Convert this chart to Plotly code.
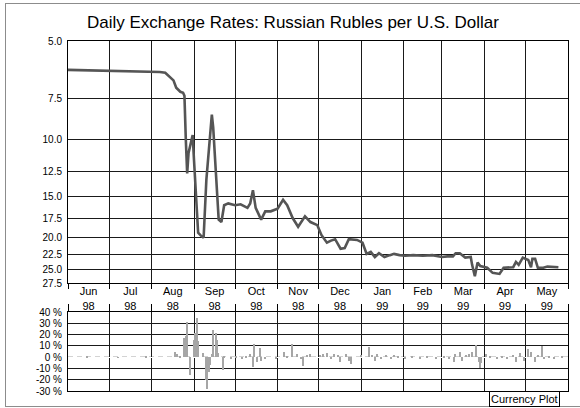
import math
import plotly.graph_objects as go

# ---- data ----
rate_dates = [
    "1998-06-01", "1998-06-10", "1998-06-20", "1998-07-01", "1998-07-10", "1998-07-20",
    "1998-08-01", "1998-08-07", "1998-08-11", "1998-08-14", "1998-08-17", "1998-08-19",
    "1998-08-22", "1998-08-24", "1998-08-25", "1998-08-26", "1998-08-27", "1998-08-28",
    "1998-08-31", "1998-09-01", "1998-09-03", "1998-09-04", "1998-09-06", "1998-09-08",
    "1998-09-10", "1998-09-14", "1998-09-15", "1998-09-17", "1998-09-19", "1998-09-21",
    "1998-09-23", "1998-09-26", "1998-10-01", "1998-10-05", "1998-10-10", "1998-10-12",
    "1998-10-14", "1998-10-16", "1998-10-20", "1998-10-23", "1998-10-27", "1998-11-01",
    "1998-11-05", "1998-11-08", "1998-11-12", "1998-11-16", "1998-11-19", "1998-11-21",
    "1998-11-25", "1998-11-30", "1998-12-03", "1998-12-07", "1998-12-10", "1998-12-13",
    "1998-12-17", "1998-12-20", "1998-12-23", "1998-12-29", "1999-01-02", "1999-01-05",
    "1999-01-08", "1999-01-11", "1999-01-14", "1999-01-18", "1999-01-22", "1999-01-25",
    "1999-01-29", "1999-02-02", "1999-02-08", "1999-02-15", "1999-02-22", "1999-03-01",
    "1999-03-05", "1999-03-09", "1999-03-11", "1999-03-14", "1999-03-18", "1999-03-22",
    "1999-03-23", "1999-03-25", "1999-03-27", "1999-03-29", "1999-04-03", "1999-04-07",
    "1999-04-12", "1999-04-15", "1999-04-22", "1999-04-24", "1999-04-26", "1999-04-29",
    "1999-05-03", "1999-05-05", "1999-05-06", "1999-05-08", "1999-05-10", "1999-05-14",
    "1999-05-17", "1999-05-25",
]
rubles_per_usd = [
    6.13, 6.14, 6.14, 6.15, 6.16, 6.17,
    6.20, 6.22, 6.25, 6.43, 6.60, 6.95,
    7.15, 7.20, 7.35, 10.0, 12.7, 11.0,
    9.7, 11.6, 16.4, 19.3, 19.7, 20.0,
    13.3, 8.4, 9.2, 12.4, 17.6, 17.9,
    15.9, 15.7, 15.9, 15.8, 16.2, 15.7,
    14.3, 16.2, 17.6, 16.6, 16.6, 16.3,
    15.3, 15.9, 17.4, 18.5, 17.6, 17.2,
    17.9, 18.3, 19.6, 20.7, 20.4, 20.2,
    21.6, 21.5, 20.2, 20.3, 20.7, 22.4,
    22.1, 22.9, 22.3, 22.9, 22.6, 22.4,
    22.6, 22.7, 22.6, 22.7, 22.6, 22.9,
    22.8, 22.8, 22.3, 22.3, 23.0, 22.9,
    24.2, 26.2, 23.8, 24.4, 24.7, 25.6,
    25.8, 24.7, 24.6, 23.7, 24.2, 23.0,
    23.4, 24.6, 23.2, 23.2, 24.7, 24.7,
    24.5, 24.6,
]

change_dates = [
    "1998-06-15", "1998-07-08", "1998-07-28", "1998-08-18", "1998-08-20", "1998-08-22",
    "1998-08-25", "1998-08-26", "1998-08-27", "1998-08-29", "1998-09-01", "1998-09-02",
    "1998-09-03", "1998-09-04", "1998-09-08", "1998-09-10", "1998-09-11", "1998-09-12",
    "1998-09-13", "1998-09-14", "1998-09-15", "1998-09-17", "1998-09-18", "1998-09-19",
    "1998-09-22", "1998-09-23", "1998-09-28", "1998-10-02", "1998-10-06", "1998-10-09",
    "1998-10-12", "1998-10-14", "1998-10-15", "1998-10-17", "1998-10-19", "1998-10-20",
    "1998-10-23", "1998-10-31", "1998-11-06", "1998-11-08", "1998-11-12", "1998-11-15",
    "1998-11-18", "1998-11-20", "1998-11-23", "1998-11-25", "1998-12-02", "1998-12-04",
    "1998-12-07", "1998-12-10", "1998-12-12", "1998-12-15", "1998-12-17", "1998-12-21",
    "1998-12-23", "1998-12-25", "1999-01-01", "1999-01-07", "1999-01-09", "1999-01-11",
    "1999-01-13", "1999-01-16", "1999-01-19", "1999-01-23", "1999-01-25", "1999-01-28",
    "1999-02-02", "1999-02-07", "1999-02-13", "1999-02-18", "1999-02-25", "1999-03-03",
    "1999-03-06", "1999-03-10", "1999-03-11", "1999-03-14", "1999-03-16", "1999-03-19",
    "1999-03-21", "1999-03-23", "1999-03-26", "1999-03-28", "1999-03-29", "1999-03-30",
    "1999-04-02", "1999-04-05", "1999-04-10", "1999-04-14", "1999-04-18", "1999-04-22",
    "1999-04-24", "1999-04-27", "1999-04-30", "1999-05-03", "1999-05-05", "1999-05-08",
    "1999-05-10", "1999-05-13", "1999-05-15", "1999-05-18", "1999-05-22", "1999-05-28",
]
pct_change = [
    0.5, -0.5, 0.5, 4.5, 2.5, 1.0,
    17.0, 19.0, 31.0, -16.0, 15.0, 21.0,
    35.0, 14.0, 4.0, -20.0, -28.0, -13.0,
    -7.0, 3.0, 24.0, 21.0, 15.0, 4.0,
    -11.5, 1.0, -1.0, 1.0, -1.0, 1.0,
    3.0, -8.6, 11.6, -4.0, 8.0, -3.0,
    -2.0, -1.0, 4.4, 1.0, 12.0, 3.0,
    -2.0, -8.0, 2.0, 3.0, 2.0, 3.0,
    4.0, -2.0, 3.0, 2.0, -4.0, 3.0,
    -3.0, -6.0, 2.0, 9.0, 2.0, -3.0,
    3.0, -2.0, 2.0, -2.0, 2.0, 1.0,
    -1.0, 1.0, -1.0, 1.0, -1.0, 1.0,
    -2.0, -4.0, 3.0, 5.0, -3.0, 2.0,
    3.0, 5.0, 10.7, -4.0, -10.0, -5.0,
    3.0, 1.0, -1.0, 1.0, -2.0, 2.0,
    -4.0, 4.0, -3.0, 7.0, 5.0, -4.0,
    2.0, 10.0, -2.0, 1.0, -1.0, 1.0,
]

rate_ticks = [5.0, 7.5, 10.0, 12.5, 15.0, 17.5, 20.0, 22.5, 25.0, 27.5]
pct_ticks = [40, 30, 20, 10, 0, -10, -20, -30]
x_range = ["1998-06-01", "1999-06-01"]

# ---- figure ----
FONT = "Liberation Sans, Arial, sans-serif"
GRID = "#1a1a1a"
DAY_MS = 86400000

fig = go.Figure()
fig.add_trace(go.Scatter(
    x=rate_dates, y=rubles_per_usd, mode="lines",
    line=dict(color="#555555", width=2.6),
    xaxis="x", yaxis="y", showlegend=False, hoverinfo="x+y",
))
# invisible helper so the overlaid year-label axis is rendered
fig.add_trace(go.Scatter(
    x=rate_dates[:1], y=rubles_per_usd[:1], mode="markers",
    marker=dict(opacity=0), xaxis="x3", yaxis="y",
    showlegend=False, hoverinfo="skip",
))
fig.add_trace(go.Bar(
    x=change_dates, y=pct_change, width=1.1 * DAY_MS,
    marker=dict(color="#a6a6a6", line=dict(width=0)),
    xaxis="x2", yaxis="y2", showlegend=False,
))

fig.update_layout(
    width=580, height=408,
    margin=dict(l=68, r=12, t=41, b=17),
    paper_bgcolor="white", plot_bgcolor="white",
    font=dict(family=FONT, color="black", size=10),
    bargap=0,
    title=dict(
        text="Daily Exchange Rates: Russian Rubles per U.S. Dollar",
        x=0.505, xref="container", xanchor="center",
        y=1 - 22 / 408, yref="container", yanchor="middle",
        font=dict(family=FONT, size=17, color="black"),
    ),
    xaxis=dict(
        type="date", range=x_range, anchor="y",
        dtick="M1", tick0="1998-06-01", ticklabelmode="period",
        tickformat="%b", tickfont=dict(size=11),
        ticks="outside", ticklen=5, tickcolor="black", tickwidth=1,
        ticklabelstandoff=-7,
        showgrid=True, gridcolor=GRID, gridwidth=1,
        showline=True, linecolor="black", linewidth=1, mirror=True,
        zeroline=False, fixedrange=True,
    ),
    xaxis3=dict(
        type="date", range=x_range, overlaying="x", anchor="y", side="bottom",
        dtick="M1", tick0="1998-06-01", ticklabelmode="period",
        tickformat="%y", tickfont=dict(size=11),
        ticks="", showgrid=False, showline=False, zeroline=False,
        ticklabelstandoff=15,
    ),
    yaxis=dict(
        type="log", domain=[(391 - 283) / 350, 1],
        range=[math.log10(27.5), math.log10(5.0)],
        tickvals=rate_ticks, ticktext=[f"{v:.1f}" for v in rate_ticks],
        tickfont=dict(size=10), ticks="", ticklabelstandoff=3,
        showgrid=True, gridcolor=GRID, gridwidth=1,
        showline=True, linecolor="black", linewidth=1, mirror=True,
        zeroline=False,
    ),
    xaxis2=dict(
        type="date", range=x_range, anchor="y2", side="top",
        dtick="M1", tick0="1998-06-01",
        showticklabels=False, ticks="outside", ticklen=7, tickcolor="black",
        showgrid=True, gridcolor=GRID, gridwidth=1,
        showline=True, linecolor="black", linewidth=1, mirror=True,
        zeroline=False,
    ),
    yaxis2=dict(
        domain=[0, (391 - 312) / 350], anchor="x2", range=[-30, 40],
        tickvals=pct_ticks, ticktext=[f"{v} %" for v in pct_ticks],
        tickfont=dict(size=10), ticks="", ticklabelstandoff=3,
        showgrid=True, gridcolor=GRID, gridwidth=1,
        showline=True, linecolor="black", linewidth=1, mirror=True,
        zeroline=True, zerolinecolor="white", zerolinewidth=1,
    ),
)

# dashed zero line in lower panel
fig.add_shape(type="line", xref="x2 domain", x0=0, x1=1, yref="y2", y0=0, y1=0,
              line=dict(color="#8a8a8a", width=1, dash="5px,4px"), layer="below")

# outer frame (top, left, bottom)
def px_x(p):
    return (p - 68) / 500

def px_y(p):
    return (391 - p) / 350

for x0, y0, x1, y1 in [(5, 3.5, 580, 3.5), (5.5, 3, 5.5, 406), (5, 406.5, 580, 406.5)]:
    fig.add_shape(type="line", xref="paper", yref="paper",
                  x0=px_x(x0), y0=px_y(y0), x1=px_x(x1), y1=px_y(y1),
                  line=dict(color="#8c8c8c", width=1))

fig.add_annotation(
    text="Currency Plot", xref="paper", yref="paper",
    x=px_x(524.5), y=px_y(399), xanchor="center", yanchor="middle",
    showarrow=False, font=dict(family=FONT, size=11, color="black"),
    bordercolor="black", borderwidth=1, borderpad=1, bgcolor="white",
)

fig.write_html("out.html")
